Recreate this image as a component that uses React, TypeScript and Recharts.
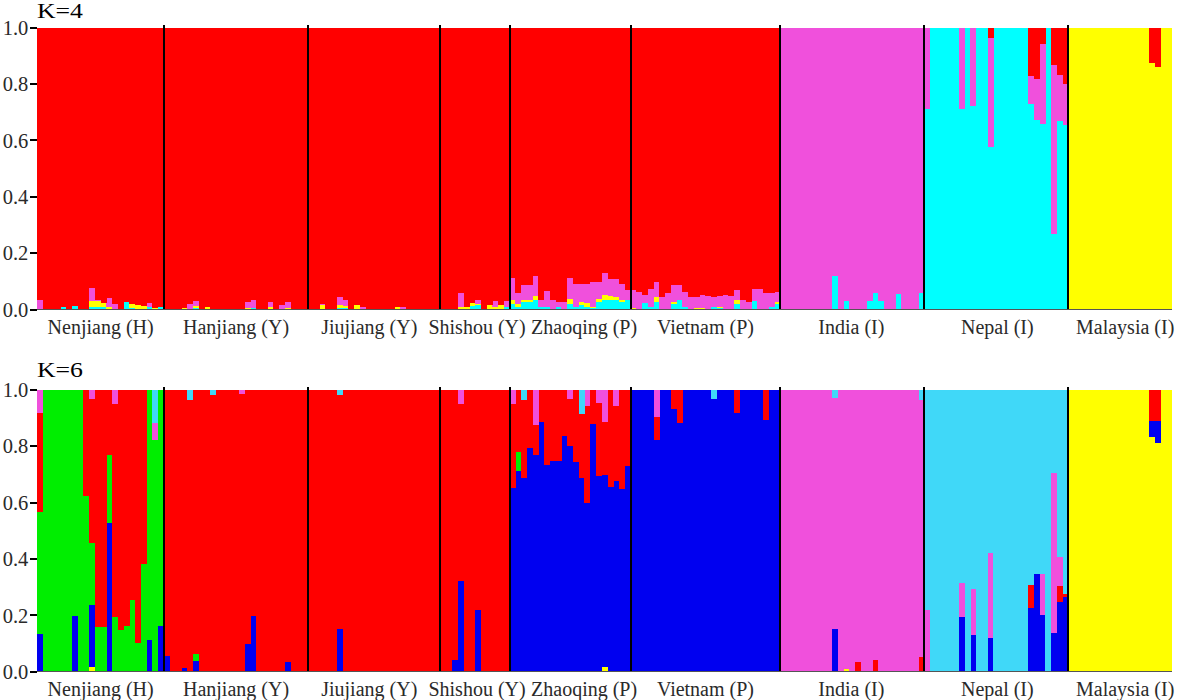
import React from 'react';
import { BarChart, Bar, XAxis, YAxis, ReferenceLine } from 'recharts';

// ---------- populations ----------
const POPULATIONS = ['Nenjiang (H)', 'Hanjiang (Y)', 'Jiujiang (Y)', 'Shishou (Y)', 'Zhaoqing (P)', 'Vietnam (P)', 'India (I)', 'Nepal (I)', 'Malaysia (I)'];
const POP_SIZES = [22, 25, 23, 12, 21, 26, 25, 25, 18];
const Y_TICKS = [0, 0.2, 0.4, 0.6, 0.8, 1.0];

// ---------- K = 4 (minor memberships per individual; the population's main cluster takes the rest) ----------
const K4_CLUSTERS = ['cyan', 'yellow', 'pink', 'red'];
const K4_MAJOR = ['red', 'red', 'red', 'red', 'red', 'red', 'pink', 'cyan', 'yellow'];
const K4_COLORS: Record<string, string> = { cyan: '#00FFFF', yellow: '#FFFF00', pink: '#F050DC', red: '#FF0000' };

const K4_CYAN = [
  [0, 0, 0, 0, .01, 0, .012, 0, 0, .01, .01, .008, 0, 0, 0, .025, .005, 0, 0, .01, 0, .01],
  [0, 0, 0, 0, 0, .005, 0, 0, 0, 0, 0, 0, 0, 0, 0, .005, 0, 0, 0, 0, 0, 0, 0, 0, 0],
  [0, 0, 0, 0, 0, .005, .005, 0, 0, 0, 0, 0, 0, 0, 0, 0, 0, 0, 0, 0, 0, 0, 0],
  [0, 0, 0, 0, 0, .012, .015, 0, 0, 0, 0, .01],
  [.018, .01, .027, .027, .035, .01, .01, 0, .01, 0, .02, .01, .017, .01, .005, .027, .035, .035, .033, .027, .033],
  [0, 0, .024, .01, .027, 0, 0, .021, .035, .008, 0, 0, 0, 0, .01, .006, 0, 0, .018, 0, 0, .03, 0, 0, .008, .018],
  [0, 0, 0, 0, 0, 0, 0, 0, 0, .12, 0, .03, 0, 0, 0, .03, .06, .03, 0, 0, .055, 0, 0, 0, .06],
  [0, 0, 0, 0, 0, 0, 0, 0, 0, 0, 0, 0, 0, 0, 0, 0, 0, 0, 0, 0, 0, 0, 0, 0, 0],
  [0, 0, 0, 0, 0, 0, 0, 0, 0, 0, 0, 0, 0, 0, 0, 0, 0, 0],
];
const K4_YELLOW = [
  [0, 0, 0, 0, 0, 0, 0, 0, 0, .02, .02, .016, .01, 0, 0, 0, .013, .015, .012, 0, .005, 0],
  [0, 0, 0, .006, 0, .006, 0, .008, 0, 0, 0, 0, 0, 0, .005, 0, 0, 0, .008, 0, 0, .006, 0, 0, 0],
  [0, 0, .015, 0, 0, .01, .008, 0, .015, 0, 0, 0, 0, 0, 0, .01, 0, 0, 0, 0, 0, 0, 0],
  [0, 0, 0, .01, .01, .012, .005, 0, .015, .01, .017, 0],
  [.015, .01, .008, .008, .012, 0, 0, 0, 0, 0, .018, 0, .01, .014, .005, .012, .015, .012, .012, .005, 0],
  [.006, 0, 0, 0, .018, 0, 0, .006, 0, 0, 0, .006, .005, 0, 0, .004, 0, 0, .015, 0, 0, 0, 0, 0, 0, .01],
  [0, 0, 0, 0, 0, 0, 0, 0, 0, 0, 0, 0, 0, 0, 0, 0, 0, 0, 0, 0, 0, 0, 0, 0, 0],
  [0, 0, 0, 0, 0, 0, 0, 0, 0, 0, 0, 0, 0, 0, 0, 0, 0, 0, 0, 0, 0, 0, 0, 0, 0],
  [0, 0, 0, 0, 0, 0, 0, 0, 0, 0, 0, 0, 0, 0, 0, 0, 0, 0],
];
const K4_PINK = [
  [.033, 0, 0, 0, 0, 0, 0, 0, 0, .047, .005, 0, .032, .018, 0, 0, 0, 0, 0, .014, 0, 0],
  [0, 0, 0, 0, .018, .02, 0, 0, 0, 0, 0, 0, 0, 0, .02, .03, 0, 0, .018, 0, .015, .02, 0, 0, 0],
  [0, 0, .005, 0, 0, .03, .02, 0, 0, .01, 0, 0, 0, 0, 0, 0, .008, 0, 0, 0, 0, 0, 0],
  [0, 0, 0, .047, 0, 0, .015, 0, 0, .02, 0, .02],
  [.08, .037, .051, .051, .071, .025, .055, .033, .017, .027, .075, .082, .065, .065, .088, .059, .078, .061, .063, .06, .036],
  [.063, .063, .026, .061, .053, .045, .057, .059, .051, .055, .045, .039, .048, .047, .035, .037, .053, .047, .036, .033, .027, .041, .071, .057, .052, .035],
  [0, 0, 0, 0, 0, 0, 0, 0, 0, 0, 0, 0, 0, 0, 0, 0, 0, 0, 0, 0, 0, 0, 0, 0, 0],
  [.29, 0, 0, 0, 0, 0, .29, 0, .28, 0, 0, .386, 0, 0, 0, 0, 0, 0, .097, .148, .284, 0, .597, .16, .146],
  [0, 0, 0, 0, 0, 0, 0, 0, 0, 0, 0, 0, 0, 0, 0, 0, 0, 0],
];
const K4_RED = [
  [0, 0, 0, 0, 0, 0, 0, 0, 0, 0, 0, 0, 0, 0, 0, 0, 0, 0, 0, 0, 0, 0],
  [0, 0, 0, 0, 0, 0, 0, 0, 0, 0, 0, 0, 0, 0, 0, 0, 0, 0, 0, 0, 0, 0, 0, 0, 0],
  [0, 0, 0, 0, 0, 0, 0, 0, 0, 0, 0, 0, 0, 0, 0, 0, 0, 0, 0, 0, 0, 0, 0],
  [0, 0, 0, 0, 0, 0, 0, 0, 0, 0, 0, 0],
  [0, 0, 0, 0, 0, 0, 0, 0, 0, 0, 0, 0, 0, 0, 0, 0, 0, 0, 0, 0, 0],
  [0, 0, 0, 0, 0, 0, 0, 0, 0, 0, 0, 0, 0, 0, 0, 0, 0, 0, 0, 0, 0, 0, 0, 0, 0, 0],
  [0, 0, 0, 0, 0, 0, 0, 0, 0, 0, 0, 0, 0, 0, 0, 0, 0, 0, 0, 0, 0, 0, 0, 0, 0],
  [0, 0, 0, 0, 0, 0, 0, 0, 0, 0, 0, .039, 0, 0, 0, 0, 0, 0, .173, .181, .059, 0, .134, .17, .2],
  [0, 0, 0, 0, 0, 0, 0, 0, 0, 0, 0, 0, 0, 0, .125, .14, 0, 0],
];

// ---------- K = 6 ----------
const K6_CLUSTERS = ['yellow', 'blue', 'green', 'red', 'pink', 'lblue'];
const K6_MAJOR = ['green', 'red', 'red', 'red', 'blue', 'blue', 'pink', 'lblue', 'yellow'];
const K6_COLORS: Record<string, string> = { yellow: '#FFFF00', blue: '#0000F0', green: '#00EE00', red: '#FF0000', pink: '#F050DC', lblue: '#40D8F8' };

const K6_YELLOW = [
  [0, 0, 0, 0, 0, 0, 0, 0, 0, .018, 0, 0, 0, 0, 0, 0, 0, 0, 0, 0, 0, 0],
  [0, 0, 0, 0, 0, 0, 0, 0, 0, 0, 0, 0, 0, 0, 0, 0, 0, 0, 0, 0, 0, 0, 0, 0, 0],
  [0, 0, 0, 0, 0, 0, 0, 0, 0, 0, 0, 0, 0, 0, 0, 0, 0, 0, 0, 0, 0, 0, 0],
  [0, 0, 0, 0, 0, 0, 0, 0, 0, 0, 0, 0],
  [0, 0, 0, 0, 0, 0, 0, 0, 0, 0, 0, 0, 0, 0, 0, 0, .018, 0, 0, 0, 0],
  [0, 0, 0, 0, 0, 0, 0, 0, 0, 0, 0, 0, 0, 0, 0, 0, 0, 0, 0, 0, 0, 0, 0, 0, 0, 0],
  [0, 0, 0, 0, 0, 0, 0, 0, 0, 0, 0, .01, 0, 0, 0, 0, 0, 0, 0, 0, 0, 0, 0, 0, 0],
  [0, 0, 0, 0, 0, 0, 0, 0, 0, 0, 0, 0, 0, 0, 0, 0, 0, 0, 0, 0, 0, 0, 0, 0, 0],
  [0, 0, 0, 0, 0, 0, 0, 0, 0, 0, 0, 0, 0, 0, 0, 0, 0, 0],
];
const K6_BLUE = [
  [.134, 0, 0, 0, 0, 0, .199, 0, 0, .219, 0, 0, .526, 0, 0, 0, 0, 0, 0, .112, 0, .162],
  [.055, 0, 0, .014, 0, .038, 0, 0, 0, 0, 0, 0, 0, 0, .1, .197, 0, 0, 0, 0, 0, .033, 0, 0, 0],
  [0, 0, 0, 0, 0, .15, 0, 0, 0, 0, 0, 0, 0, 0, 0, 0, 0, 0, 0, 0, 0, 0, 0],
  [0, 0, .04, .32, 0, 0, .22, 0, 0, 0, 0, 0],
  [0, 0, 0, 0, 0, 0, 0, 0, 0, 0, 0, 0, 0, 0, 0, 0, 0, 0, 0, 0, 0],
  [0, 0, 0, 0, 0, 0, 0, 0, 0, 0, 0, 0, 0, 0, 0, 0, 0, 0, 0, 0, 0, 0, 0, 0, 0, 0],
  [0, 0, 0, 0, 0, 0, 0, 0, 0, .15, 0, 0, 0, 0, 0, 0, 0, 0, 0, 0, 0, 0, 0, 0, 0],
  [0, 0, 0, 0, 0, 0, .195, 0, .13, 0, 0, .118, 0, 0, 0, 0, 0, 0, .225, .345, .201, 0, .138, .248, .264],
  [0, 0, 0, 0, 0, 0, 0, 0, 0, 0, 0, 0, 0, 0, .055, .077, 0, 0],
];
const K6_GREEN = [
  [0, 0, 0, 0, 0, 0, 0, 0, 0, 0, 0, 0, 0, 0, 0, 0, 0, 0, 0, 0, 0, 0],
  [0, 0, 0, 0, 0, .025, 0, 0, 0, 0, 0, 0, 0, 0, 0, 0, 0, 0, 0, 0, 0, 0, 0, 0, 0],
  [0, 0, 0, 0, 0, 0, 0, 0, 0, 0, 0, 0, 0, 0, 0, 0, 0, 0, 0, 0, 0, 0, 0],
  [0, 0, 0, 0, 0, 0, 0, 0, 0, 0, 0, 0],
  [0, .067, 0, 0, 0, 0, 0, 0, 0, 0, 0, 0, 0, 0, 0, 0, 0, 0, 0, 0, 0],
  [0, 0, 0, 0, 0, 0, 0, 0, 0, 0, 0, 0, 0, 0, 0, 0, 0, 0, 0, 0, 0, 0, 0, 0, 0, 0],
  [0, 0, 0, 0, 0, 0, 0, 0, 0, 0, 0, 0, 0, 0, 0, 0, 0, 0, 0, 0, 0, 0, 0, 0, 0],
  [0, 0, 0, 0, 0, 0, 0, 0, 0, 0, 0, 0, 0, 0, 0, 0, 0, 0, 0, 0, 0, 0, 0, 0, 0],
  [0, 0, 0, 0, 0, 0, 0, 0, 0, 0, 0, 0, 0, 0, 0, 0, 0, 0],
];
const K6_RED = [
  [.349, 0, 0, 0, 0, 0, 0, 0, .378, .511, .842, .842, .23, .756, .853, .837, .745, .898, .617, 0, 0, 0],
  [0, 0, 0, 0, 0, 0, 0, 0, 0, 0, 0, 0, 0, 0, 0, 0, 0, 0, 0, 0, 0, 0, 0, 0, 0],
  [0, 0, 0, 0, 0, 0, 0, 0, 0, 0, 0, 0, 0, 0, 0, 0, 0, 0, 0, 0, 0, 0, 0],
  [0, 0, 0, 0, 0, 0, 0, 0, 0, 0, 0, 0],
  [.297, .222, .278, .207, .106, .116, .266, .254, .254, .163, .168, .258, .227, .345, .121, .258, .186, .346, .264, .351, .27],
  [0, 0, 0, 0, .08, 0, 0, .069, .118, 0, 0, 0, 0, 0, 0, 0, 0, 0, .083, 0, 0, 0, 0, .109, 0, 0],
  [0, 0, 0, 0, 0, 0, 0, 0, 0, 0, 0, 0, 0, .035, 0, 0, .04, 0, 0, 0, 0, 0, 0, 0, .053],
  [0, 0, 0, 0, 0, 0, 0, 0, 0, 0, 0, 0, 0, 0, 0, 0, 0, 0, .083, 0, 0, 0, 0, .056, .01],
  [0, 0, 0, 0, 0, 0, 0, 0, 0, 0, 0, 0, 0, 0, .112, .112, 0, 0],
];
const K6_PINK = [
  [.083, 0, 0, 0, 0, 0, 0, 0, 0, .033, 0, 0, 0, .05, 0, 0, 0, 0, 0, 0, .059, 0],
  [0, 0, 0, 0, 0, 0, 0, 0, 0, 0, 0, 0, 0, .015, 0, 0, 0, 0, 0, 0, 0, 0, 0, 0, 0],
  [0, 0, 0, 0, 0, 0, 0, 0, 0, 0, 0, 0, 0, 0, 0, 0, 0, 0, 0, 0, 0, 0, 0],
  [0, 0, 0, .05, 0, 0, 0, 0, 0, 0, 0, 0],
  [.05, 0, 0, 0, .124, 0, 0, 0, 0, 0, .033, 0, 0, .057, 0, .047, .116, 0, .059, 0, 0],
  [0, 0, 0, 0, .097, 0, 0, 0, 0, 0, 0, 0, 0, 0, 0, 0, 0, 0, 0, 0, 0, 0, 0, 0, 0, 0],
  [0, 0, 0, 0, 0, 0, 0, 0, 0, 0, 0, 0, 0, 0, 0, 0, 0, 0, 0, 0, 0, 0, 0, 0, 0],
  [.219, 0, 0, 0, 0, 0, .118, 0, .165, 0, 0, .304, 0, 0, 0, 0, 0, 0, 0, 0, .144, 0, .565, .104, 0],
  [0, 0, 0, 0, 0, 0, 0, 0, 0, 0, 0, 0, 0, 0, 0, 0, 0, 0],
];
const K6_LBLUE = [
  [0, 0, 0, 0, 0, 0, 0, 0, 0, 0, 0, 0, 0, 0, 0, 0, 0, 0, 0, 0, .118, 0],
  [0, 0, 0, 0, .035, 0, 0, 0, .02, 0, 0, 0, 0, 0, 0, 0, 0, 0, 0, 0, 0, 0, 0, 0, 0],
  [0, 0, 0, 0, 0, .02, 0, 0, 0, 0, 0, 0, 0, 0, 0, 0, 0, 0, 0, 0, 0, 0, 0],
  [0, 0, 0, 0, 0, 0, 0, 0, 0, 0, 0, 0],
  [0, 0, .035, 0, 0, 0, 0, 0, 0, 0, 0, 0, .086, 0, 0, 0, 0, 0, 0, 0, 0],
  [0, 0, 0, 0, 0, 0, 0, 0, 0, 0, 0, 0, 0, 0, .033, 0, 0, 0, 0, 0, 0, 0, 0, 0, 0, 0],
  [0, 0, 0, 0, 0, 0, 0, 0, 0, .03, 0, 0, 0, 0, 0, 0, 0, 0, 0, 0, 0, 0, 0, 0, .035],
  [0, 0, 0, 0, 0, 0, 0, 0, 0, 0, 0, 0, 0, 0, 0, 0, 0, 0, 0, 0, 0, 0, 0, 0, 0],
  [0, 0, 0, 0, 0, 0, 0, 0, 0, 0, 0, 0, 0, 0, 0, 0, 0, 0],
];

// ---------- derived structures ----------
const TOTAL = POP_SIZES.reduce((a, b) => a + b, 0);
const FIRST_IDS: number[] = [];
{
  let acc = 0;
  POP_SIZES.forEach((n) => {
    FIRST_IDS.push(acc);
    acc += n;
  });
}
const BOUNDS = FIRST_IDS.slice(1);

function buildRows(clusters: string[], values: Record<string, number[][]>, major: string[]) {
  const rows: any[] = [];
  let id = 0;
  POP_SIZES.forEach((n, p) => {
    for (let i = 0; i < n; i++) {
      const row: any = { id: id++ };
      let sum = 0;
      clusters.forEach((c) => {
        if (c !== major[p]) {
          row[c] = values[c][p][i] || 0;
          sum += row[c];
        }
      });
      row[major[p]] = Math.max(0, 1 - sum);
      rows.push(row);
    }
  });
  return rows;
}

const K4_ROWS = buildRows(K4_CLUSTERS, { cyan: K4_CYAN, yellow: K4_YELLOW, pink: K4_PINK, red: K4_RED }, K4_MAJOR);
const K6_ROWS = buildRows(K6_CLUSTERS, { yellow: K6_YELLOW, blue: K6_BLUE, green: K6_GREEN, red: K6_RED, pink: K6_PINK, lblue: K6_LBLUE }, K6_MAJOR);

// ---------- layout ----------
const FONT = "'Liberation Serif', 'Times New Roman', serif";
const CHART_W = 1178;
const Y_AXIS_W = 37.3;
const RIGHT_MARGIN = 6;
const PLOT_H = 282;
const BAND = (CHART_W - Y_AXIS_W - RIGHT_MARGIN) / TOTAL;
// small horizontal nudges of the population labels, as placed in the original figure
const LABEL_DX = [0, 0, -5, 2, 14, 0, -1, 1, 5];

// population label centred under its group (tick sits on the group's first individual)
function PopTick(props: any) {
  const { x, y, payload } = props;
  const p = FIRST_IDS.indexOf(payload.value);
  if (p < 0) return null;
  const cx = x - BAND / 2 + (POP_SIZES[p] * BAND) / 2 + LABEL_DX[p];
  return (
    <text x={cx} y={y} dy="0.71em" textAnchor="middle" fontFamily={FONT} fontSize={20} fill="#2a2a2a">
      {POPULATIONS[p]}
    </text>
  );
}

function Panel(props: { rows: any[]; clusters: string[]; colors: Record<string, string>; top: number; marginTop: number; title: string; titleY: number }) {
  const { rows, clusters, colors, top, marginTop, title, titleY } = props;
  const H = 350;
  return (
    <div style={{ position: 'absolute', left: 0, top, width: CHART_W, height: H }}>
      <BarChart
        width={CHART_W}
        height={H}
        data={rows}
        margin={{ top: marginTop, right: RIGHT_MARGIN, left: 0, bottom: 0 }}
        barCategoryGap={0}
        barGap={0}
      >
        <XAxis
          dataKey="id"
          type="category"
          ticks={FIRST_IDS}
          interval={0}
          height={H - marginTop - PLOT_H}
          tickLine={false}
          tickSize={0}
          tickMargin={10}
          axisLine={{ stroke: '#555', strokeWidth: 1 }}
          tick={<PopTick />}
        />
        <YAxis
          domain={[0, 1]}
          allowDataOverflow
          ticks={Y_TICKS}
          interval={0}
          tickFormatter={(v: number) => v.toFixed(1)}
          width={Y_AXIS_W}
          tickSize={7}
          tickMargin={2}
          axisLine={false}
          tickLine={{ stroke: '#000', strokeWidth: 2 }}
          tick={{ fill: '#2a2a2a', fontSize: 20.5, fontFamily: FONT }}
        />
        {clusters.map((c) => (
          <Bar key={c} dataKey={c} stackId="s" fill={colors[c]} isAnimationActive={false} />
        ))}
        {BOUNDS.map((b) => (
          <ReferenceLine
            key={b}
            segment={[{ x: b, y: 0 }, { x: b, y: 1.01 }]}
            position="start"
            ifOverflow="visible"
            stroke="#000"
            strokeWidth={2}
          />
        ))}
      </BarChart>
      <svg width={120} height={40} style={{ position: 'absolute', left: 0, top: 0, shapeRendering: 'auto' }}>
        <text x={37} y={titleY} fontFamily={FONT} fontSize={22} fill="#000" textLength={46} lengthAdjust="spacingAndGlyphs">
          {title}
        </text>
      </svg>
    </div>
  );
}

export default function App() {
  return (
    <div style={{ position: 'absolute', left: 0, top: 0, width: CHART_W, height: 700, background: '#fff', shapeRendering: 'crispEdges' }}>
      <Panel rows={K4_ROWS} clusters={K4_CLUSTERS} colors={K4_COLORS} top={0} marginTop={27.5} title="K=4" titleY={18} />
      <Panel rows={K6_ROWS} clusters={K6_CLUSTERS} colors={K6_COLORS} top={350} marginTop={39.7} title="K=6" titleY={26.7} />
    </div>
  );
}
